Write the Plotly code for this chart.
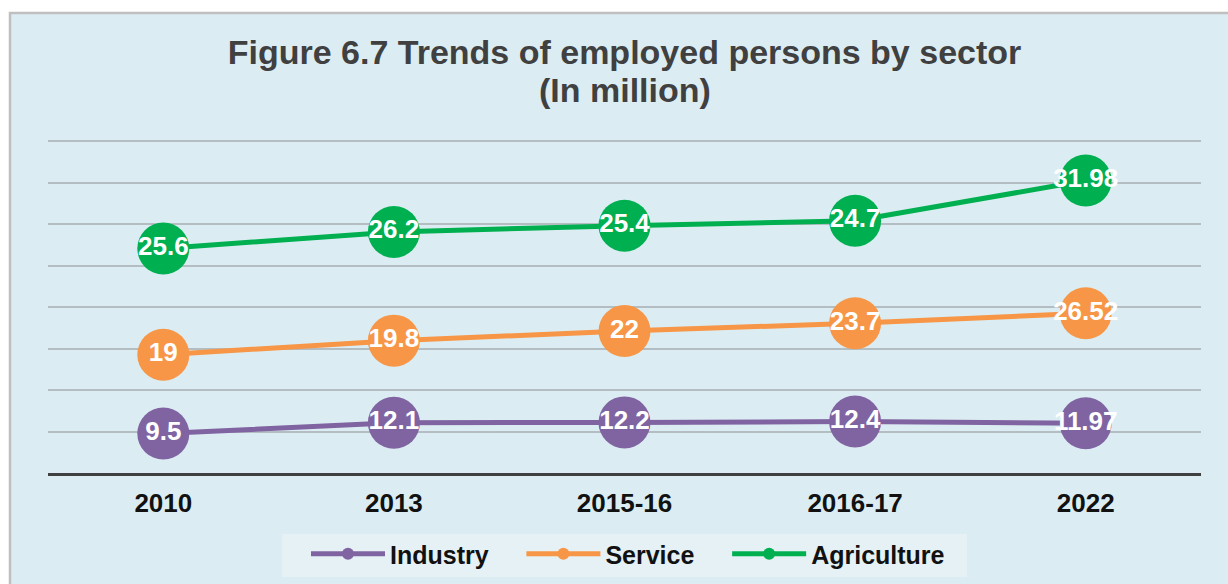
import plotly.graph_objects as go

categories = ["2010", "2013", "2015-16", "2016-17", "2022"]
industry = [9.5, 12.1, 12.2, 12.4, 11.97]
service = [19, 19.8, 22, 23.7, 26.52]
agriculture = [25.6, 26.2, 25.4, 24.7, 31.98]
labels_industry = ["9.5", "12.1", "12.2", "12.4", "11.97"]
labels_service = ["19", "19.8", "22", "23.7", "26.52"]
labels_agriculture = ["25.6", "26.2", "25.4", "24.7", "31.98"]

GAP = "\u00a0" * 4  # extra spacing after legend entries
series = [
    ("Industry" + GAP, industry, labels_industry, "#8064a2"),
    ("Service" + GAP, service, labels_service, "#f79646"),
    ("Agriculture", agriculture, labels_agriculture, "#00b050"),
]

FONT = "Arial, Liberation Sans, sans-serif"

fig = go.Figure()
for name, vals, labs, color in series:
    fig.add_trace(go.Scatter(
        x=categories, y=vals, name=name,
        stackgroup="one", fill="none",
        mode="lines+markers+text",
        line=dict(color=color, width=5),
        marker=dict(color=color, size=52, line=dict(width=0)),
        text=labs, textposition="middle center",
        textfont=dict(family=FONT, size=26, color="white", weight="bold"),
        hoverinfo="skip",
    ))

L, R, T, B = 48, 27, 140, 111
W, H = 1228, 584
pw, ph = W - L - R, H - T - B

def px_x(p):
    return (p - L) / pw

def px_y(p):
    return (H - B - p) / ph

shapes = [
    dict(type="rect", xref="paper", yref="paper", layer="below",
         x0=px_x(10), x1=px_x(1260), y0=px_y(620), y1=px_y(13),
         fillcolor="#dbedf3", line=dict(color="#bfbfbf", width=2.5)),
    dict(type="rect", xref="paper", yref="paper", layer="below",
         x0=px_x(282), x1=px_x(967), y0=px_y(577), y1=px_y(534),
         fillcolor="#e5f1f5", line=dict(width=0)),
]

fig.update_layout(
    width=W, height=H,
    margin=dict(l=L, r=R, t=T, b=B, autoexpand=False),
    paper_bgcolor="white",
    plot_bgcolor="rgba(0,0,0,0)",
    shapes=shapes,
    title=dict(
        text="Figure 6.7 Trends of employed persons by sector",
        x=0.5, xref="paper", xanchor="center",
        y=1 - 52 / H, yanchor="middle",
        font=dict(family=FONT, size=34, color="#404040", weight="bold"),
    ),
    annotations=[dict(
        text="(In million)", xref="paper", yref="paper",
        x=0.5, y=px_y(90), xanchor="center", yanchor="middle",
        showarrow=False,
        font=dict(family=FONT, size=34, color="#404040", weight="bold"),
    )],
    xaxis=dict(
        type="category", range=[-0.5, 4.5],
        showgrid=False, showline=True, linecolor="#404040", linewidth=3,
        ticks="", tickfont=dict(family=FONT, size=26, color="#111111", weight="bold"),
        ticklabelstandoff=5,
    ),
    yaxis=dict(
        range=[0, 80.25], dtick=10, showticklabels=False,
        showgrid=True, gridcolor="#b4bec2", gridwidth=2, zeroline=False,
    ),
    showlegend=True,
    legend=dict(
        orientation="h", traceorder="normal",
        x=px_x(628), xanchor="center", y=px_y(554), yanchor="middle",
        bgcolor="rgba(0,0,0,0)", itemsizing="constant", itemwidth=74,
        font=dict(family=FONT, size=25, color="#111111", weight="bold"),
    ),
)

fig.write_html("out.html", config={"displayModeBar": False},
               post_script="document.body.style.margin='0px';")
